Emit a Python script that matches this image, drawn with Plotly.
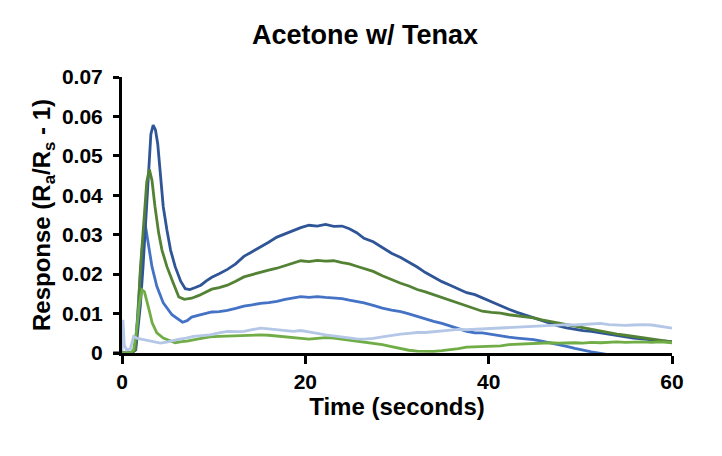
import plotly.graph_objects as go

# time (s) and response values, one pair of lists per trace
db_t = [0, 1.0, 1.5, 2.0, 2.3, 2.6, 2.9, 3.15, 3.4, 3.65, 3.9, 4.2, 4.5, 4.9, 5.3, 5.8, 6.4, 6.9, 7.4, 8.0,
        8.6, 9.2, 9.8, 10.6, 11.5, 12.4, 13.3, 14.2, 15.1, 16.0, 16.9, 17.8, 18.7, 19.5, 20.4, 21.3, 22.2, 23.1,
        24.0, 24.8, 25.6, 26.4, 27.4, 28.4, 29.4, 30.4, 31.3, 32.2, 33.1, 34.0, 34.9, 35.8, 36.7, 37.6, 38.5,
        39.3, 40.3, 41.3, 42.2, 43.1, 44.0, 44.9, 45.8, 46.7, 47.6, 48.5, 49.4, 50.3, 51.2, 52.2, 53.1, 54.0,
        54.9, 55.8, 56.8, 57.8, 58.8, 60.0]
db_v = [0, 0, 0.0008, 0.012, 0.022, 0.034, 0.047, 0.0555, 0.0578, 0.0566, 0.053, 0.0447, 0.0371, 0.0312, 0.0261,
        0.0219, 0.0182, 0.0163, 0.0161, 0.0166, 0.0172, 0.0183, 0.0192, 0.0201, 0.0212, 0.0226, 0.0245, 0.0257,
        0.0268, 0.0281, 0.0294, 0.0303, 0.0312, 0.0318, 0.0324, 0.0322, 0.0326, 0.0321, 0.0322, 0.0315, 0.0305,
        0.0291, 0.0282, 0.0268, 0.0253, 0.0242, 0.0231, 0.0218, 0.0204, 0.0192, 0.0181, 0.0172, 0.0162, 0.0153,
        0.0148, 0.0140, 0.0128, 0.0118, 0.0111, 0.0103, 0.0096, 0.0089, 0.0082, 0.0075, 0.0069, 0.0064, 0.0060,
        0.0057, 0.0055, 0.0051, 0.0048, 0.0044, 0.0041, 0.0038, 0.0036, 0.0033, 0.0031, 0.0029]

dg_t = [0, 1.0, 1.45, 1.75, 2.0, 2.36, 2.7, 2.98, 3.27, 3.6, 4.0, 4.36, 4.9, 5.6, 6.2, 6.8, 7.6, 8.4, 9.1, 9.8,
        10.6, 11.5, 12.4, 13.3, 14.2, 15.1, 16.0, 16.9, 17.8, 18.7, 19.5, 20.4, 21.3, 22.2, 23.1, 24.0, 24.8,
        25.6, 26.4, 27.4, 28.4, 29.4, 30.4, 31.3, 32.2, 33.1, 34.0, 34.9, 35.8, 36.7, 37.6, 38.5, 39.3, 40.3,
        41.3, 42.2, 43.1, 44.0, 44.9, 45.8, 46.7, 47.6, 48.5, 49.4, 50.3, 51.2, 52.2, 53.1, 54.0, 54.9, 55.8,
        56.8, 57.8, 58.8, 60.0]
dg_v = [0, 0, 0.0008, 0.010, 0.0211, 0.0337, 0.0434, 0.0466, 0.0438, 0.0371, 0.0304, 0.0261, 0.0219, 0.0177,
        0.0142, 0.0136, 0.0139, 0.0146, 0.0153, 0.0162, 0.0166, 0.0172, 0.0182, 0.0193, 0.0199, 0.0205, 0.0210,
        0.0215, 0.0222, 0.0228, 0.0234, 0.0232, 0.0235, 0.0233, 0.0234, 0.0229, 0.0226, 0.0220, 0.0215, 0.0207,
        0.0196, 0.0186, 0.0177, 0.0170, 0.0161, 0.0155, 0.0148, 0.0141, 0.0133, 0.0126, 0.0118, 0.0113, 0.0106,
        0.0103, 0.0101, 0.0097, 0.0094, 0.0091, 0.0089, 0.0084, 0.0080, 0.0075, 0.0072, 0.0067, 0.0063, 0.0059,
        0.0055, 0.0051, 0.0048, 0.0045, 0.0042, 0.0038, 0.0034, 0.0031, 0.0028]

mb_t = [0, 1.0, 1.45, 1.8, 2.18, 2.54, 2.9, 3.27, 3.8, 4.5, 5.45, 6.1, 6.6, 7.1, 7.6, 8.4, 9.1, 9.8, 10.6, 11.5,
        12.4, 13.3, 14.2, 15.1, 16.0, 16.9, 17.8, 18.7, 19.5, 20.4, 21.3, 22.2, 23.1, 24.0, 24.8, 25.6, 26.4,
        27.4, 28.4, 29.4, 30.4, 31.3, 32.2, 33.1, 34.0, 34.9, 35.8, 36.7, 37.6, 38.5, 39.3, 40.3, 41.3, 42.2,
        43.1, 44.0, 44.9, 45.8, 46.7, 47.6, 48.5, 49.4, 50.3, 51.2, 52.2, 53.0]
mb_v = [0, 0, 0.0008, 0.0143, 0.0261, 0.0325, 0.0278, 0.0219, 0.0169, 0.0127, 0.0097, 0.0085, 0.0078, 0.0082,
        0.0091, 0.0096, 0.0101, 0.0104, 0.0105, 0.0108, 0.0113, 0.0119, 0.0122, 0.0126, 0.0128, 0.0131, 0.0136,
        0.0140, 0.0143, 0.0141, 0.0143, 0.0141, 0.0139, 0.0138, 0.0134, 0.0131, 0.0127, 0.0121, 0.0114, 0.0109,
        0.0105, 0.0099, 0.0092, 0.0086, 0.0080, 0.0075, 0.0069, 0.0062, 0.0055, 0.0051, 0.0051, 0.0047, 0.0042,
        0.0040, 0.0038, 0.0036, 0.0034, 0.0030, 0.0026, 0.0022, 0.0017, 0.0012, 0.0007, 0.0003, -0.0001, -0.0004]

lg_t = [0, 0.9, 1.27, 1.6, 1.9, 2.18, 2.45, 2.7, 3.0, 3.3, 3.8, 4.5, 5.2, 5.8, 6.5, 7.1, 8.2, 9.6, 10.6, 11.5,
        12.4, 13.3, 14.2, 15.1, 16.0, 16.9, 17.8, 18.7, 19.5, 20.4, 21.3, 22.2, 23.1, 24.0, 24.8, 25.6, 26.4,
        27.4, 28.4, 29.4, 30.4, 31.3, 32.2, 33.1, 34.0, 34.9, 35.8, 36.7, 37.6, 38.5, 39.3, 40.3, 41.3, 42.2,
        43.1, 44.0, 44.9, 45.8, 46.7, 47.6, 48.5, 49.4, 50.3, 51.2, 52.2, 53.1, 54.0, 54.9, 55.8, 56.8, 57.8,
        58.8, 60.0]
lg_v = [0, 0, 0.0008, 0.006, 0.0125, 0.016, 0.0155, 0.0135, 0.0105, 0.0076, 0.0051, 0.0038, 0.0031, 0.0026,
        0.0029, 0.0030, 0.0035, 0.0041, 0.0042, 0.0043, 0.0044, 0.0044, 0.0046, 0.0046, 0.0045, 0.0043, 0.0040,
        0.0038, 0.0036, 0.0035, 0.0037, 0.0039, 0.0038, 0.0035, 0.0032, 0.0029, 0.0028, 0.0024, 0.0021, 0.0016,
        0.0011, 0.0007, 0.0005, 0.0004, 0.0004, 0.0006, 0.0008, 0.0011, 0.0015, 0.0016, 0.0017, 0.0017, 0.0018,
        0.0021, 0.0022, 0.0023, 0.0024, 0.0025, 0.0026, 0.0025, 0.0026, 0.0026, 0.0025, 0.0027, 0.0026, 0.0027,
        0.0028, 0.0027, 0.0028, 0.0028, 0.0027, 0.0028, 0.0026]

lb_t = [0, 0.1, 0.25, 0.5, 0.9, 1.27, 1.7, 2.4, 3.2, 4.2, 5.0, 6.0, 7.0, 7.8, 8.7, 9.6, 10.6, 11.5, 12.4, 13.3,
        14.2, 15.1, 16.0, 16.9, 17.8, 18.7, 19.5, 20.4, 21.3, 22.2, 23.1, 24.0, 24.8, 25.6, 26.4, 27.4, 28.4,
        29.4, 30.4, 31.3, 32.2, 33.1, 34.0, 34.9, 35.8, 36.7, 37.6, 38.5, 39.3, 40.3, 41.3, 42.2, 43.1, 44.0,
        44.9, 45.8, 46.7, 47.6, 48.5, 49.4, 50.3, 51.2, 52.2, 53.1, 54.0, 54.9, 55.8, 56.8, 57.8, 58.8, 60.0]
lb_v = [0.0005, 0.0084, 0.002, 0.0008, 0.001, 0.0042, 0.0037, 0.0034, 0.0031, 0.0025, 0.0028, 0.0034, 0.0038,
        0.0042, 0.0044, 0.0046, 0.0051, 0.0055, 0.0054, 0.0055, 0.0059, 0.0063, 0.0061, 0.0059, 0.0058, 0.0055,
        0.0057, 0.0054, 0.0050, 0.0046, 0.0043, 0.0041, 0.0038, 0.0036, 0.0035, 0.0037, 0.0041, 0.0045, 0.0048,
        0.0050, 0.0052, 0.0052, 0.0054, 0.0057, 0.0059, 0.0060, 0.0059, 0.0060, 0.0062, 0.0063, 0.0063, 0.0064,
        0.0066, 0.0067, 0.0067, 0.0069, 0.0070, 0.0071, 0.0072, 0.0071, 0.0072, 0.0073, 0.0075, 0.0072, 0.0071,
        0.0070, 0.0071, 0.0072, 0.0071, 0.0067, 0.0063]

series = [
    (mb_t, mb_v, '#4472C4'),
    (db_t, db_v, '#2F5597'),
    (dg_t, dg_v, '#548235'),
    (lg_t, lg_v, '#70AD47'),
    (lb_t, lb_v, '#B4C7E7'),
]

fnt = 'Liberation Sans, Arial, sans-serif'

fig = go.Figure()
for t, v, c in series:
    assert len(t) == len(v)
    fig.add_trace(go.Scatter(x=t, y=v, mode='lines', line=dict(color=c, width=2.8),
                             showlegend=False, hoverinfo='skip'))

# page body has an 8px margin, so the figure is 8px smaller than the window
fig.update_layout(
    width=714, height=448,
    margin=dict(l=114, r=50, t=69, b=103),
    plot_bgcolor='white', paper_bgcolor='white',
    title=dict(text='<b>Acetone w/ Tenax</b>', x=0.5, xanchor='center', y=1 - 27 / 448, yanchor='middle',
               font=dict(family=fnt, size=27, color='black')),
)
fig.update_xaxes(
    range=[0, 60], tickvals=[0, 20, 40, 60], showgrid=False, zeroline=False,
    showline=True, linecolor='black', linewidth=3,
    ticks='outside', ticklen=8, tickwidth=3, tickcolor='black',
    tickfont=dict(family=fnt, size=21, color='black', weight='bold'),
    title=dict(text='<b>Time (seconds)</b>', font=dict(family=fnt, size=24, color='black'), standoff=6),
)
fig.update_yaxes(
    range=[0, 0.07], dtick=0.01, tickformat='.2f', showgrid=False, zeroline=False,
    showline=True, linecolor='black', linewidth=3,
    ticks='outside', ticklen=6, tickwidth=3, tickcolor='black', ticklabelstandoff=6,
    tickfont=dict(family=fnt, size=21, color='black', weight='bold'),
    labelalias={'0.00': '0'},
    title=dict(text='<b>Response (R<sub>a</sub>/R<sub>s</sub> - 1)</b>',
               font=dict(family=fnt, size=24, color='black'), standoff=5),
)
# short stub of the x axis line to the left of the y axis, as in the reference
fig.add_shape(type='line', xref='paper', yref='paper', x0=-0.016, x1=0, y0=0, y1=0,
              line=dict(color='black', width=3))

fig.write_html("out.html")
